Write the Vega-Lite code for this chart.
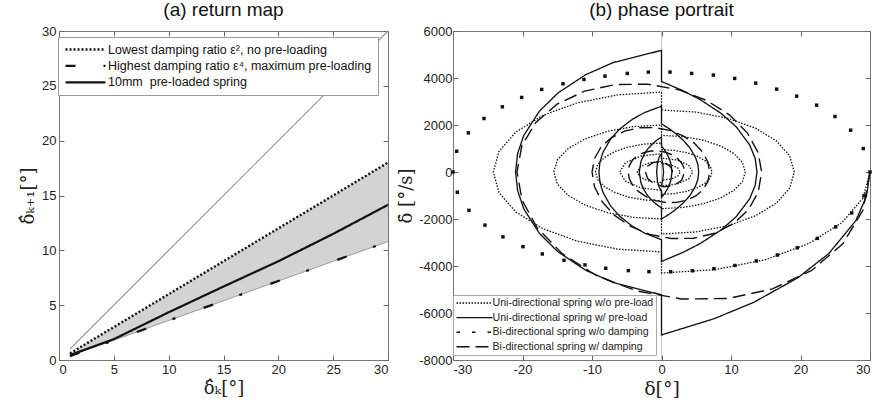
{
  "$schema": "https://vega.github.io/schema/vega-lite/v6.json",
  "padding": {"left": 19, "top": 0, "right": 0, "bottom": 0},
  "spacing": 3,
  "resolve": {"scale": {"strokeDash": "independent", "strokeWidth": "independent"}, "legend": {"strokeDash": "independent", "strokeWidth": "independent"}},
  "config": {
    "view": {"stroke": "#777", "strokeWidth": 1},
    "font": "Liberation Sans",
    "axis": {"grid": false, "domain": false, "tickColor": "#666", "tickSize": -5, "labelFont": "Liberation Sans", "labelFontSize": 13, "labelColor": "#222", "labelPadding": 8, "titleFont": "DejaVu Serif", "titleFontSize": 18, "titleFontWeight": "normal", "titleColor": "#222"},
    "title": {"font": "Liberation Sans", "fontSize": 19, "fontWeight": "normal", "color": "#111", "offset": 5}
  },
  "datasets": {
    "band": [
      {"x": 1, "lo": 0.36, "hi": 0.6},
      {"x": 5, "lo": 1.8, "hi": 3},
      {"x": 10, "lo": 3.6, "hi": 6},
      {"x": 15, "lo": 5.4, "hi": 9},
      {"x": 20, "lo": 7.2, "hi": 12},
      {"x": 25, "lo": 9.0, "hi": 15},
      {"x": 30, "lo": 10.8, "hi": 18}
    ],
    "diag": [{"x": 1, "y": 1}, {"x": 30, "y": 30}],
    "ret": [
      {"s": "p", "x": 1, "y": 0.6}, {"s": "p", "x": 30, "y": 18},
      {"s": "q", "x": 1, "y": 0.36}, {"s": "q", "x": 30, "y": 10.8},
      {"s": "r", "x": 1, "y": 0.45}, {"s": "r", "x": 5, "y": 1.9}, {"s": "r", "x": 10, "y": 4.35}, {"s": "r", "x": 15, "y": 6.7}, {"s": "r", "x": 20, "y": 9.0}, {"s": "r", "x": 25, "y": 11.5}, {"s": "r", "x": 30, "y": 14.15}
    ],
    "zero": [{"x": 0}],
    "phase": [
      {"s":"a","i":0,"x":30,"y":0},{"s":"a","i":1,"x":28.98,"y":-1113},{"s":"a","i":2,"x":25.98,"y":-2150},{"s":"a","i":3,"x":21.21,"y":-3041},{"s":"a","i":4,"x":15,"y":-3724},{"s":"a","i":5,"x":7.76,"y":-4154},{"s":"a","i":6,"x":0,"y":-4300},
      {"s":"a","i":7,"x":0,"y":-3400},{"s":"a","i":8,"x":-6.26,"y":-3284},{"s":"a","i":9,"x":-12.1,"y":-2944},{"s":"a","i":10,"x":-17.11,"y":-2404},{"s":"a","i":11,"x":-20.96,"y":-1700},{"s":"a","i":12,"x":-23.38,"y":-880},{"s":"a","i":13,"x":-24.2,"y":0},{"s":"a","i":14,"x":-23.38,"y":880},{"s":"a","i":15,"x":-20.96,"y":1700},{"s":"a","i":16,"x":-17.11,"y":2404},{"s":"a","i":17,"x":-12.1,"y":2944},{"s":"a","i":18,"x":-6.26,"y":3284},{"s":"a","i":19,"x":0,"y":3400},
      {"s":"a","i":20,"x":0,"y":2640},{"s":"a","i":21,"x":4.94,"y":2550},{"s":"a","i":22,"x":9.55,"y":2286},{"s":"a","i":23,"x":13.51,"y":1867},{"s":"a","i":24,"x":16.54,"y":1320},{"s":"a","i":25,"x":18.45,"y":683},{"s":"a","i":26,"x":19.1,"y":0},{"s":"a","i":27,"x":18.45,"y":-683},{"s":"a","i":28,"x":16.54,"y":-1320},{"s":"a","i":29,"x":13.51,"y":-1867},{"s":"a","i":30,"x":9.55,"y":-2286},{"s":"a","i":31,"x":4.94,"y":-2550},{"s":"a","i":32,"x":0,"y":-2640},
      {"s":"a","i":33,"x":0,"y":-2000},{"s":"a","i":34,"x":-4.01,"y":-1932},{"s":"a","i":35,"x":-7.75,"y":-1732},{"s":"a","i":36,"x":-10.96,"y":-1414},{"s":"a","i":37,"x":-13.42,"y":-1000},{"s":"a","i":38,"x":-14.97,"y":-518},{"s":"a","i":39,"x":-15.5,"y":0},{"s":"a","i":40,"x":-14.97,"y":518},{"s":"a","i":41,"x":-13.42,"y":1000},{"s":"a","i":42,"x":-10.96,"y":1414},{"s":"a","i":43,"x":-7.75,"y":1732},{"s":"a","i":44,"x":-4.01,"y":1932},{"s":"a","i":45,"x":0,"y":2000},
      {"s":"a","i":46,"x":0,"y":1560},{"s":"a","i":47,"x":3.12,"y":1507},{"s":"a","i":48,"x":6.03,"y":1351},{"s":"a","i":49,"x":8.53,"y":1103},{"s":"a","i":50,"x":10.44,"y":780},{"s":"a","i":51,"x":11.65,"y":404},{"s":"a","i":52,"x":12.06,"y":0},{"s":"a","i":53,"x":11.65,"y":-404},{"s":"a","i":54,"x":10.44,"y":-780},{"s":"a","i":55,"x":8.53,"y":-1103},{"s":"a","i":56,"x":6.03,"y":-1351},{"s":"a","i":57,"x":3.12,"y":-1507},{"s":"a","i":58,"x":0,"y":-1560},
      {"s":"a","i":59,"x":0,"y":-1230},{"s":"a","i":60,"x":-2.46,"y":-1188},{"s":"a","i":61,"x":-4.75,"y":-1065},{"s":"a","i":62,"x":-6.72,"y":-870},{"s":"a","i":63,"x":-8.23,"y":-615},{"s":"a","i":64,"x":-9.18,"y":-318},{"s":"a","i":65,"x":-9.5,"y":0},{"s":"a","i":66,"x":-9.18,"y":318},{"s":"a","i":67,"x":-8.23,"y":615},{"s":"a","i":68,"x":-6.72,"y":870},{"s":"a","i":69,"x":-4.75,"y":1065},{"s":"a","i":70,"x":-2.46,"y":1188},{"s":"a","i":71,"x":0,"y":1230},
      {"s":"a","i":72,"x":0,"y":950},{"s":"a","i":73,"x":1.88,"y":918},{"s":"a","i":74,"x":3.64,"y":823},{"s":"a","i":75,"x":5.14,"y":672},{"s":"a","i":76,"x":6.3,"y":475},{"s":"a","i":77,"x":7.02,"y":246},{"s":"a","i":78,"x":7.27,"y":0},{"s":"a","i":79,"x":7.02,"y":-246},{"s":"a","i":80,"x":6.3,"y":-475},{"s":"a","i":81,"x":5.14,"y":-672},{"s":"a","i":82,"x":3.64,"y":-823},{"s":"a","i":83,"x":1.88,"y":-918},{"s":"a","i":84,"x":0,"y":-950},
      {"s":"a","i":85,"x":0,"y":-780},{"s":"a","i":86,"x":-3,"y":-675},{"s":"a","i":87,"x":-5.2,"y":-390},{"s":"a","i":88,"x":-6,"y":0},{"s":"a","i":89,"x":-5.2,"y":390},{"s":"a","i":90,"x":-3,"y":675},{"s":"a","i":91,"x":0,"y":780},
      {"s":"a","i":92,"x":0,"y":590},{"s":"a","i":93,"x":2.25,"y":511},{"s":"a","i":94,"x":3.9,"y":295},{"s":"a","i":95,"x":4.5,"y":0},{"s":"a","i":96,"x":3.9,"y":-295},{"s":"a","i":97,"x":2.25,"y":-511},{"s":"a","i":98,"x":0,"y":-590},
      {"s":"a","i":99,"x":0,"y":-455},{"s":"a","i":100,"x":-1.75,"y":-394},{"s":"a","i":101,"x":-3.03,"y":-228},{"s":"a","i":102,"x":-3.5,"y":0},{"s":"a","i":103,"x":-3.03,"y":228},{"s":"a","i":104,"x":-1.75,"y":394},{"s":"a","i":105,"x":0,"y":455},
      {"s":"a","i":106,"x":0,"y":350},{"s":"a","i":107,"x":1.35,"y":303},{"s":"a","i":108,"x":2.34,"y":175},{"s":"a","i":109,"x":2.7,"y":0},{"s":"a","i":110,"x":2.34,"y":-175},{"s":"a","i":111,"x":1.35,"y":-303},{"s":"a","i":112,"x":0,"y":-350},

      {"s":"b","i":0,"x":30,"y":0},{"s":"b","i":1,"x":29.49,"y":-1040},{"s":"b","i":2,"x":27.94,"y":-2080},{"s":"b","i":3,"x":24.08,"y":-3467},{"s":"b","i":4,"x":19.59,"y":-4507},{"s":"b","i":5,"x":13.27,"y":-5547},{"s":"b","i":6,"x":7.59,"y":-6241},{"s":"b","i":7,"x":0,"y":-6934},
      {"s":"b","i":8,"x":0,"y":-5228},{"s":"b","i":9,"x":-6.95,"y":-4705},{"s":"b","i":10,"x":-10.9,"y":-4182},{"s":"b","i":11,"x":-14.89,"y":-3398},{"s":"b","i":12,"x":-17.57,"y":-2614},{"s":"b","i":13,"x":-19.82,"y":-1568},{"s":"b","i":14,"x":-20.71,"y":-784},{"s":"b","i":15,"x":-21,"y":0},{"s":"b","i":16,"x":-20.71,"y":776},{"s":"b","i":17,"x":-19.82,"y":1553},{"s":"b","i":18,"x":-17.57,"y":2588},{"s":"b","i":19,"x":-14.89,"y":3364},{"s":"b","i":20,"x":-10.9,"y":4141},{"s":"b","i":21,"x":-6.95,"y":4658},{"s":"b","i":22,"x":0,"y":5176},
      {"s":"b","i":23,"x":0,"y":3850},{"s":"b","i":24,"x":3.05,"y":3465},{"s":"b","i":25,"x":5.56,"y":3080},{"s":"b","i":26,"x":8.54,"y":2503},{"s":"b","i":27,"x":10.74,"y":1925},{"s":"b","i":28,"x":12.68,"y":1155},{"s":"b","i":29,"x":13.48,"y":578},{"s":"b","i":30,"x":13.74,"y":0},{"s":"b","i":31,"x":13.48,"y":-571},{"s":"b","i":32,"x":12.68,"y":-1142},{"s":"b","i":33,"x":10.74,"y":-1904},{"s":"b","i":34,"x":8.54,"y":-2475},{"s":"b","i":35,"x":5.56,"y":-3046},{"s":"b","i":36,"x":3.05,"y":-3426},{"s":"b","i":37,"x":0,"y":-3807},
      {"s":"b","i":38,"x":0,"y":-2882},{"s":"b","i":39,"x":-2.48,"y":-2594},{"s":"b","i":40,"x":-4.2,"y":-2306},{"s":"b","i":41,"x":-6.05,"y":-1873},{"s":"b","i":42,"x":-7.33,"y":-1441},{"s":"b","i":43,"x":-8.42,"y":-865},{"s":"b","i":44,"x":-8.86,"y":-432},{"s":"b","i":45,"x":-9,"y":0},{"s":"b","i":46,"x":-8.86,"y":420},{"s":"b","i":47,"x":-8.42,"y":841},{"s":"b","i":48,"x":-7.33,"y":1401},{"s":"b","i":49,"x":-6.05,"y":1821},{"s":"b","i":50,"x":-4.2,"y":2242},{"s":"b","i":51,"x":-2.48,"y":2522},{"s":"b","i":52,"x":0,"y":2802},
      {"s":"b","i":53,"x":0,"y":2050},{"s":"b","i":54,"x":1.09,"y":1845},{"s":"b","i":55,"x":2.03,"y":1640},{"s":"b","i":56,"x":3.19,"y":1333},{"s":"b","i":57,"x":4.09,"y":1025},{"s":"b","i":58,"x":4.9,"y":615},{"s":"b","i":59,"x":5.24,"y":308},{"s":"b","i":60,"x":5.35,"y":0},{"s":"b","i":61,"x":5.24,"y":-300},{"s":"b","i":62,"x":4.9,"y":-600},{"s":"b","i":63,"x":4.09,"y":-1000},{"s":"b","i":64,"x":3.19,"y":-1300},{"s":"b","i":65,"x":2.03,"y":-1600},{"s":"b","i":66,"x":1.09,"y":-1800},{"s":"b","i":67,"x":0,"y":-2000},
      {"s":"b","i":68,"x":0,"y":-1530},{"s":"b","i":69,"x":-0.73,"y":-1377},{"s":"b","i":70,"x":-1.32,"y":-1224},{"s":"b","i":71,"x":-2.01,"y":-995},{"s":"b","i":72,"x":-2.51,"y":-765},{"s":"b","i":73,"x":-2.96,"y":-459},{"s":"b","i":74,"x":-3.2,"y":0},{"s":"b","i":75,"x":-2.96,"y":447},{"s":"b","i":76,"x":-2.51,"y":745},{"s":"b","i":77,"x":-2.01,"y":969},{"s":"b","i":78,"x":-1.32,"y":1192},{"s":"b","i":79,"x":-0.73,"y":1341},{"s":"b","i":80,"x":0,"y":1490},
      {"s":"b","i":81,"x":0,"y":1110},{"s":"b","i":82,"x":0.29,"y":999},{"s":"b","i":83,"x":0.55,"y":888},{"s":"b","i":84,"x":0.875,"y":722},{"s":"b","i":85,"x":1.13,"y":555},{"s":"b","i":86,"x":1.37,"y":333},{"s":"b","i":87,"x":1.5,"y":0},{"s":"b","i":88,"x":1.37,"y":-324},{"s":"b","i":89,"x":1.13,"y":-540},{"s":"b","i":90,"x":0.875,"y":-702},{"s":"b","i":91,"x":0.55,"y":-864},{"s":"b","i":92,"x":0.29,"y":-972},{"s":"b","i":93,"x":0,"y":-1080},
      {"s":"b","i":94,"x":0,"y":-800},{"s":"b","i":95,"x":-0.35,"y":-640},{"s":"b","i":96,"x":-0.58,"y":-400},{"s":"b","i":97,"x":-0.7,"y":0},{"s":"b","i":98,"x":-0.58,"y":390},{"s":"b","i":99,"x":-0.35,"y":624},{"s":"b","i":100,"x":0,"y":780},
      {"s":"b","i":101,"x":0,"y":580},{"s":"b","i":102,"x":0.15,"y":410},{"s":"b","i":103,"x":0.3,"y":0},{"s":"b","i":104,"x":0.15,"y":-400},{"s":"b","i":105,"x":0,"y":-560},

      {"s":"d","i":0,"x":30,"y":0},{"s":"d","i":1,"x":28.98,"y":-1629},{"s":"d","i":2,"x":26.09,"y":-3054},{"s":"d","i":3,"x":21.61,"y":-4189},{"s":"d","i":4,"x":15.96,"y":-4975},{"s":"d","i":5,"x":9.57,"y":-5382},{"s":"d","i":6,"x":2.92,"y":-5405},{"s":"d","i":7,"x":-3.54,"y":-5064},{"s":"d","i":8,"x":-9.37,"y":-4404},{"s":"d","i":9,"x":-14.24,"y":-3487},{"s":"d","i":10,"x":-17.85,"y":-2392},{"s":"d","i":11,"x":-20.06,"y":-1200},{"s":"d","i":12,"x":-20.79,"y":0},
      {"s":"d","i":13,"x":-20.09,"y":1127},{"s":"d","i":14,"x":-18.08,"y":2112},{"s":"d","i":15,"x":-14.98,"y":2897},{"s":"d","i":16,"x":-11.06,"y":3441},{"s":"d","i":17,"x":-6.63,"y":3722},{"s":"d","i":18,"x":-2.02,"y":3738},{"s":"d","i":19,"x":2.45,"y":3502},{"s":"d","i":20,"x":6.49,"y":3046},{"s":"d","i":21,"x":9.86,"y":2412},{"s":"d","i":22,"x":12.37,"y":1654},{"s":"d","i":23,"x":13.9,"y":830},{"s":"d","i":24,"x":14.41,"y":0},
      {"s":"d","i":25,"x":13.92,"y":-853},{"s":"d","i":26,"x":12.53,"y":-1599},{"s":"d","i":27,"x":10.38,"y":-2194},{"s":"d","i":28,"x":7.67,"y":-2606},{"s":"d","i":29,"x":4.6,"y":-2819},{"s":"d","i":30,"x":1.4,"y":-2831},{"s":"d","i":31,"x":-1.7,"y":-2652},{"s":"d","i":32,"x":-4.5,"y":-2306},{"s":"d","i":33,"x":-6.84,"y":-1826},{"s":"d","i":34,"x":-8.57,"y":-1253},{"s":"d","i":35,"x":-9.64,"y":-629},{"s":"d","i":36,"x":-9.99,"y":0},
      {"s":"d","i":37,"x":-9.65,"y":570},{"s":"d","i":38,"x":-8.69,"y":1068},{"s":"d","i":39,"x":-7.2,"y":1465},{"s":"d","i":40,"x":-5.31,"y":1740},{"s":"d","i":41,"x":-3.19,"y":1882},{"s":"d","i":42,"x":-0.97,"y":1890},{"s":"d","i":43,"x":1.18,"y":1771},{"s":"d","i":44,"x":3.12,"y":1540},{"s":"d","i":45,"x":4.74,"y":1219},{"s":"d","i":46,"x":5.94,"y":836},{"s":"d","i":47,"x":6.68,"y":420},{"s":"d","i":48,"x":6.92,"y":0},
      {"s":"d","i":49,"x":6.69,"y":-392},{"s":"d","i":50,"x":6.02,"y":-734},{"s":"d","i":51,"x":4.99,"y":-1007},{"s":"d","i":52,"x":3.68,"y":-1196},{"s":"d","i":53,"x":2.21,"y":-1293},{"s":"d","i":54,"x":0.67,"y":-1299},{"s":"d","i":55,"x":-0.82,"y":-1217},{"s":"d","i":56,"x":-2.16,"y":-1058},{"s":"d","i":57,"x":-3.28,"y":-838},{"s":"d","i":58,"x":-4.12,"y":-575},{"s":"d","i":59,"x":-4.63,"y":-288},{"s":"d","i":60,"x":-4.8,"y":0},
      {"s":"d","i":61,"x":-4.64,"y":271},{"s":"d","i":62,"x":-4.17,"y":508},{"s":"d","i":63,"x":-3.46,"y":697},{"s":"d","i":64,"x":-2.55,"y":828},{"s":"d","i":65,"x":-1.53,"y":895},{"s":"d","i":66,"x":-0.47,"y":899},{"s":"d","i":67,"x":0.57,"y":842},{"s":"d","i":68,"x":1.5,"y":733},{"s":"d","i":69,"x":2.28,"y":580},{"s":"d","i":70,"x":2.86,"y":398},{"s":"d","i":71,"x":3.21,"y":200},{"s":"d","i":72,"x":3.33,"y":0},
      {"s":"d","i":73,"x":2.9,"y":-353},{"s":"d","i":74,"x":1.77,"y":-575},{"s":"d","i":75,"x":0.32,"y":-624},{"s":"d","i":76,"x":-1.04,"y":-509},{"s":"d","i":77,"x":-1.98,"y":-276},{"s":"d","i":78,"x":-2.31,"y":0},
      {"s":"d","i":79,"x":-2.01,"y":245},{"s":"d","i":80,"x":-1.23,"y":399},{"s":"d","i":81,"x":-0.22,"y":433},{"s":"d","i":82,"x":0.72,"y":353},{"s":"d","i":83,"x":1.37,"y":192},{"s":"d","i":84,"x":1.6,"y":0}
    ],
    "dots": [
      {"x":-30,"y":0},{"x":-29.47,"y":883},{"x":-27.79,"y":1665},{"x":-25.54,"y":2276},{"x":-22.9,"y":2774},{"x":-20.12,"y":3172},{"x":-17.24,"y":3513},{"x":-14.17,"y":3754},{"x":-11.15,"y":3939},{"x":-8.13,"y":4081},{"x":-4.92,"y":4195},{"x":-1.89,"y":4252},{"x":1.22,"y":4252},{"x":4.34,"y":4195},{"x":7.46,"y":4124},{"x":10.53,"y":3982},{"x":13.55,"y":3783},{"x":16.57,"y":3527},{"x":19.45,"y":3228},{"x":22.32,"y":2845},{"x":24.96,"y":2361},{"x":27.22,"y":1779},{"x":29.04,"y":997},{"x":30,"y":0},
      {"x":-29.38,"y":-860},{"x":-27.7,"y":-1632},{"x":-25.4,"y":-2261},{"x":-22.81,"y":-2760},{"x":-19.93,"y":-3177},{"x":-17.15,"y":-3487},{"x":-14.03,"y":-3757},{"x":-11.01,"y":-3953},{"x":-8.03,"y":-4095},{"x":-4.77,"y":-4196},{"x":-1.8,"y":-4242},{"x":1.32,"y":-4246},{"x":4.44,"y":-4203},{"x":7.55,"y":-4113},{"x":10.57,"y":-3978},{"x":13.64,"y":-3785},{"x":16.67,"y":-3533},{"x":19.54,"y":-3225},{"x":22.42,"y":-2824},{"x":25.06,"y":-2336},{"x":27.36,"y":-1743},{"x":29.13,"y":-1017}
    ]
  },
  "hconcat": [
    {
      "width": 329, "height": 329,
      "title": {"text": "(a) return map"},
      "layer": [
        {
          "data": {"name": "band"},
          "mark": {"type": "area", "color": "#d3d3d3"},
          "encoding": {
            "x": {"field": "x", "type": "quantitative", "scale": {"domain": [0, 30], "nice": false}, "axis": {"orient": "bottom", "values": [0, 5, 10, 15, 20, 25, 30], "title": "δ̂ₖ[°]", "titlePadding": 3}},
            "y": {"field": "lo", "type": "quantitative", "scale": {"domain": [0, 30], "nice": false}, "axis": {"orient": "left", "values": [0, 5, 10, 15, 20, 25, 30], "title": "δ̂ₖ₊₁[°]", "titlePadding": 4}},
            "y2": {"field": "hi"}
          }
        },
        {
          "data": {"name": "band"},
          "mark": {"type": "line", "color": "#888", "strokeWidth": 0.8},
          "encoding": {
            "x": {"field": "x", "type": "quantitative", "axis": null},
            "y": {"field": "lo", "type": "quantitative", "axis": null}
          }
        },
        {
          "data": {"name": "diag"},
          "mark": {"type": "line", "color": "#9a9a9a", "strokeWidth": 1.2},
          "encoding": {
            "x": {"field": "x", "type": "quantitative", "axis": {"orient": "top", "labels": false, "title": null, "values": [0, 5, 10, 15, 20, 25, 30]}},
            "y": {"field": "y", "type": "quantitative", "axis": {"orient": "right", "labels": false, "title": null, "values": [0, 5, 10, 15, 20, 25, 30]}}
          }
        },
        {
          "data": {"name": "ret"},
          "mark": {"type": "line", "color": "#111"},
          "encoding": {
            "x": {"field": "x", "type": "quantitative", "axis": null},
            "y": {"field": "y", "type": "quantitative", "axis": null},
            "strokeDash": {"field": "s", "type": "nominal", "scale": {"domain": ["p", "q", "r"], "range": [[2, 2], [10, 28, 3, 30], [1, 0]]},
              "legend": {"orient": "none", "legendX": -1, "legendY": 6, "title": null, "symbolType": "M-1,0H7", "symbolSize": 100, "symbolStrokeColor": "#111", "symbolFillColor": "transparent", "labelFontSize": 12.5, "labelFont": "Liberation Sans", "labelColor": "#111", "labelOffset": 31, "labelLimit": 0, "padding": 6, "rowPadding": 3.4, "fillColor": "white", "strokeColor": "#999",
                "labelExpr": "datum.label == 'p' ? 'Lowest damping ratio ε², no pre-loading' : datum.label == 'q' ? 'Highest damping ratio ε⁴, maximum pre-loading' : '10mm\u00a0 pre-loaded spring'",
                "encode": {"symbols": {"update": {"strokeWidth": {"signal": "datum.value == 'p' ? 2.4 : 2.2"}}}}}},
            "strokeWidth": {"field": "s", "type": "nominal", "scale": {"domain": ["p", "q", "r"], "range": [2.4, 2.2, 2]}, "legend": null}
          }
        }
      ],
      "resolve": {"axis": {"x": "independent", "y": "independent"}}
    },
    {
      "width": 417, "height": 329,
      "title": {"text": "(b) phase portrait"},
      "layer": [
        {
          "data": {"name": "zero"},
          "mark": {"type": "rule", "color": "#c8c8c8", "strokeWidth": 1},
          "encoding": {"x": {"field": "x", "type": "quantitative", "axis": null}}
        },
        {
          "data": {"name": "phase"},
          "mark": {"type": "line", "color": "#111"},
          "encoding": {
            "x": {"field": "x", "type": "quantitative", "scale": {"domain": [-30, 30], "nice": false}, "axis": {"orient": "bottom", "values": [-30, -20, -10, 0, 10, 20, 30], "labelExpr": "'' + datum.value", "title": "δ[°]", "titlePadding": 3, "titleFontSize": 19}},
            "y": {"field": "y", "type": "quantitative", "scale": {"domain": [-8000, 6000], "nice": false}, "axis": {"orient": "left", "values": [-8000, -6000, -4000, -2000, 0, 2000, 4000, 6000], "labelExpr": "'' + datum.value", "title": "δ̇ [°/s]", "titlePadding": 3, "labelPadding": 6}},
            "order": {"field": "i", "type": "quantitative"},
            "strokeDash": {"field": "s", "type": "nominal", "scale": {"domain": ["a", "b", "c", "d"], "range": [[1.5, 1.5], [1, 0], [3.5, 12], [13, 6]]},
              "legend": {"orient": "none", "legendX": 0, "legendY": 264, "title": null, "symbolType": "M-1,0H7", "symbolSize": 81, "symbolStrokeColor": "#111", "symbolFillColor": "transparent", "labelFontSize": 10.6, "labelFont": "Liberation Sans", "labelColor": "#222", "labelOffset": 26, "labelLimit": 0, "padding": 2.5, "rowPadding": 2.6, "fillColor": "white", "strokeColor": "#aaa",
                "labelExpr": "datum.label == 'a' ? 'Uni-directional spring w/o pre-load' : datum.label == 'b' ? 'Uni-directional spring w/ pre-load' : datum.label == 'c' ? 'Bi-directional spring w/o damping' : 'Bi-directional spring w/ damping'",
                "encode": {"symbols": {"update": {"strokeWidth": {"signal": "datum.value == 'c' ? 3.5 : 1.4"}}}}}},
            "strokeWidth": {"field": "s", "type": "nominal", "scale": {"domain": ["a", "b", "c", "d"], "range": [1.3, 1.4, 3.5, 1.5]}, "legend": null}
          }
        },
        {
          "data": {"name": "dots"},
          "mark": {"type": "square", "color": "#111", "size": 12, "opacity": 1},
          "encoding": {
            "x": {"field": "x", "type": "quantitative", "axis": {"orient": "top", "labels": false, "title": null, "values": [-30, -20, -10, 0, 10, 20, 30]}},
            "y": {"field": "y", "type": "quantitative", "axis": {"orient": "right", "labels": false, "title": null, "values": [-8000, -6000, -4000, -2000, 0, 2000, 4000, 6000]}}
          }
        }
      ],
      "resolve": {"axis": {"x": "independent", "y": "independent"}}
    }
  ]
}
